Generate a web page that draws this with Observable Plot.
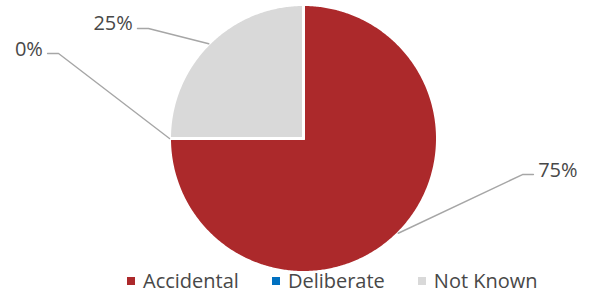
<!DOCTYPE html>
<html>
<head>
<meta charset="utf-8">
<script src="https://cdn.jsdelivr.net/npm/d3@7"></script>
<script src="https://cdn.jsdelivr.net/npm/@observablehq/plot@0.6"></script>
<style>
  html, body { margin: 0; padding: 0; background: #fff; }
  #wrap { position: relative; width: 591px; height: 297px; font-family: "Open Sans", sans-serif; }
  #legend { position: absolute; left: 127px; top: 269px; height: 24px; display: flex; align-items: center; font-size: 20px; color: #484848; line-height: 24px; }
  .item { display: flex; align-items: center; margin-right: 33px; }
  .sw { width: 8px; height: 8px; margin-right: 8px; }
</style>
</head>
<body>
<div id="wrap"><div id="legend"></div></div>
<script>
const categories = ["Accidental", "Deliberate", "Not Known"];
const values = [75, 0, 25];
const labels = ["75%", "0%", "25%"];
const colors = ["#AC292B", "#0070C0", "#D9D9D9"];

// label layout (elbow of leader line, in pie-radius units) and side
const labelElbow = [[1.634, -0.269], [-1.828, 0.634], [-1.157, 0.821]];
const labelSide = [1, -1, -1];

const arcs = d3.pie().sort(null).value(d => d)(values);
const pt = (a, r = 1) => [r * Math.sin(a), r * Math.cos(a)];

const sliceMarks = arcs.map((a, i) => {
  const rows = [{x: 0, y: 0}];
  const n = Math.max(2, Math.ceil((a.endAngle - a.startAngle) / 0.01));
  for (let k = 0; k <= n; k++) {
    const t = a.startAngle + (a.endAngle - a.startAngle) * k / n;
    const [x, y] = pt(t);
    rows.push({x, y});
  }
  rows.push({x: 0, y: 0});
  return Plot.line(rows, {x: "x", y: "y", fill: colors[i], stroke: "white", strokeWidth: 3, curve: "linear"});
});

const stub = 0.082, gap = 0.035;
const leaderRows = [];
const textRows = [];
arcs.forEach((a, i) => {
  const mid = (a.startAngle + a.endAngle) / 2;
  const [sx, sy] = pt(mid);
  const [ex, ey] = labelElbow[i];
  const s = labelSide[i];
  leaderRows.push({k: i, x: sx, y: sy}, {k: i, x: ex, y: ey}, {k: i, x: ex + s * stub, y: ey});
  textRows.push({x: ex + s * (stub + gap), y: ey, text: labels[i], side: s});
});

const plot = Plot.plot({
  width: 591,
  height: 297,
  margin: 0,
  style: {fontFamily: "Open Sans, sans-serif", background: "white"},
  x: {domain: [-1, 1], range: [169, 437], axis: null},
  y: {domain: [-1, 1], range: [272, 4], axis: null},
  marks: [
    ...sliceMarks,
    Plot.line(leaderRows, {x: "x", y: "y", z: "k", stroke: "#A6A6A6", strokeWidth: 1.4}),
    Plot.text(textRows.filter(d => d.side > 0), {x: "x", y: "y", text: "text", textAnchor: "start", lineAnchor: "bottom", dy: 2, fontSize: 20, fill: "#484848"}),
    Plot.text(textRows.filter(d => d.side < 0), {x: "x", y: "y", text: "text", textAnchor: "end", lineAnchor: "bottom", dy: 2, fontSize: 20, fill: "#484848"})
  ]
});
document.getElementById("wrap").prepend(plot);

const legend = document.getElementById("legend");
categories.forEach((c, i) => {
  const item = document.createElement("div");
  item.className = "item";
  const sw = document.createElement("span");
  sw.className = "sw";
  sw.style.background = colors[i];
  const t = document.createElement("span");
  t.textContent = c;
  item.append(sw, t);
  legend.append(item);
});
</script>
</body>
</html>
